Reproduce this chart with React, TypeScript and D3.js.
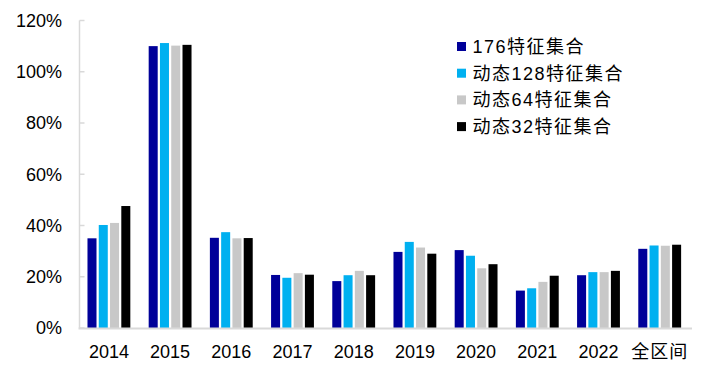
import React from "react";
import * as d3 from "d3";

const categories = ["2014", "2015", "2016", "2017", "2018", "2019", "2020", "2021", "2022", "全区间"];
const seriesNames = ["176特征集合", "动态128特征集合", "动态64特征集合", "动态32特征集合"];
const seriesColors = ["#000099", "#00B0F0", "#C8C8C8", "#000000"];
const s176 = [0.35, 1.10, 0.352, 0.207, 0.183, 0.297, 0.304, 0.146, 0.206, 0.309];
const s128 = [0.402, 1.112, 0.374, 0.196, 0.206, 0.336, 0.282, 0.155, 0.218, 0.322];
const s64 = [0.41, 1.102, 0.35, 0.214, 0.223, 0.314, 0.233, 0.18, 0.218, 0.321];
const s32 = [0.476, 1.105, 0.351, 0.208, 0.206, 0.29, 0.249, 0.204, 0.223, 0.325];
const yTicks = [0, 0.2, 0.4, 0.6, 0.8, 1.0, 1.2];

const W = 705;
const H = 375;
const FONT = "'Liberation Sans', Arial, 'Noto Sans CJK SC', sans-serif";

export default function App() {
  const seriesData = [s176, s128, s64, s32];
  const x = d3.scaleBand<string>().domain(categories).range([78.3, 690.3]).paddingInner(0.3).paddingOuter(0.15);
  const xi = d3.scaleBand<number>().domain([0, 1, 2, 3]).range([0, x.bandwidth()]).paddingInner(0.2);
  const y = d3.scaleLinear().domain([0, 1.2]).range([328, 20.5]);
  const fmt = d3.format(".0%");
  const axisX = 79.5;

  return (
    <svg width={W} height={H} style={{ position: "absolute", left: 0, top: 0, background: "#fff" }} fontFamily={FONT}>
      {/* y axis */}
      <line x1={axisX} x2={axisX} y1={y(1.2)} y2={y(0)} stroke="#d9d9d9" strokeWidth={1.5} />
      {yTicks.map((t) => (
        <g key={t}>
          <line x1={axisX} x2={axisX + 5} y1={y(t)} y2={y(t)} stroke="#d9d9d9" strokeWidth={1.5} />
          <text x={62} y={y(t)} dy="0.35em" textAnchor="end" fontSize={18} fill="#000">
            {fmt(t)}
          </text>
        </g>
      ))}
      {/* bars */}
      {categories.map((c, ci) => (
        <g key={c} transform={`translate(${x(c)},0)`}>
          {seriesData.map((s, si) => (
            <rect
              key={si}
              x={xi(si)}
              y={y(s[ci])}
              width={xi.bandwidth()}
              height={y(0) - y(s[ci])}
              fill={seriesColors[si]}
            />
          ))}
        </g>
      ))}
      {/* x axis */}
      <line x1={axisX - 1} x2={692} y1={y(0) + 0.5} y2={y(0) + 0.5} stroke="#d9d9d9" strokeWidth={2} />
      {categories.map((c, i) => (
        <text
          key={c}
          x={(x(c) as number) + x.bandwidth() / 2}
          y={352}
          dy="0.35em"
          textAnchor="middle"
          fontSize={18}
          letterSpacing={i === categories.length - 1 ? 1 : 0}
          fill="#000"
        >
          {c}
        </text>
      ))}
      {/* legend */}
      {seriesNames.map((n, i) => (
        <g key={n} transform={`translate(457, ${46.5 + i * 26.7})`}>
          <rect x={0} y={-4.5} width={9} height={9} fill={seriesColors[i]} />
          <text x={15.5} y={0} dy="0.35em" fontSize={18} letterSpacing={1.5} fill="#000">
            {n}
          </text>
        </g>
      ))}
    </svg>
  );
}
